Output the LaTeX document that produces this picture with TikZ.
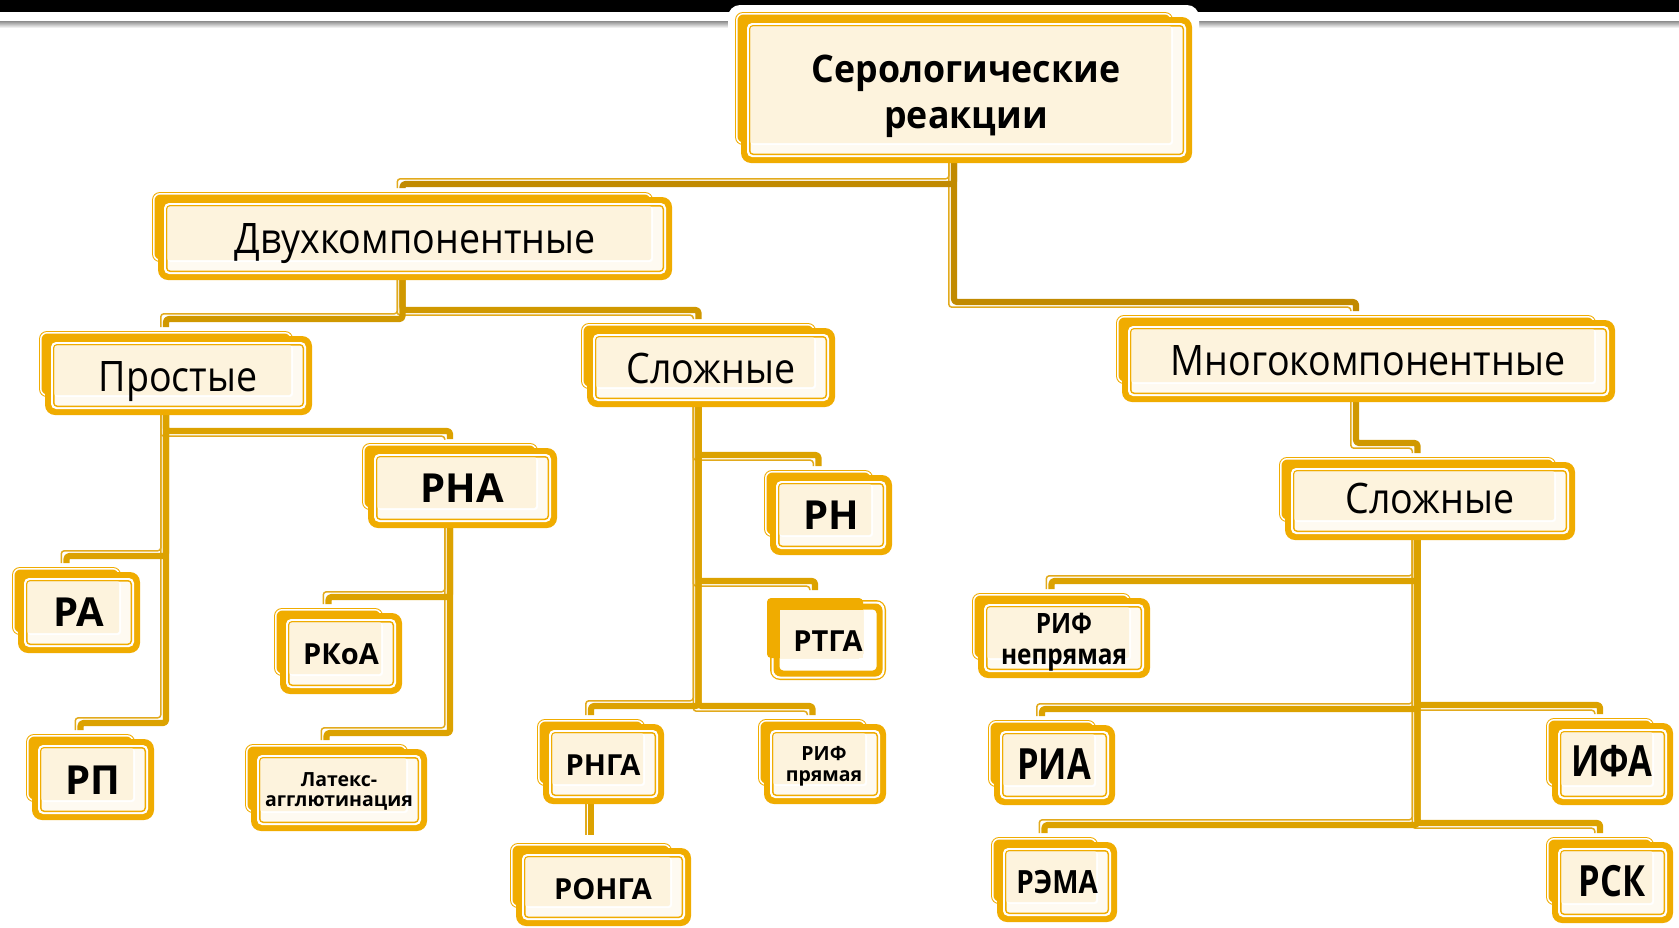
\documentclass[tikz,border=0pt]{standalone}
\usepackage{fontspec}
\setmainfont{Open Sans}
\newfontfamily\catf{Open Sans}[FakeStretch=0.895]
\newfontfamily\rootf{Open Sans}[FakeStretch=0.94]
\newfontfamily\condA{Open Sans}[FakeStretch=0.8]
\newfontfamily\condB{Open Sans}[FakeStretch=0.87]
\usetikzlibrary{calc}
\definecolor{boxor}{HTML}{F0AC00}
\definecolor{cream}{HTML}{FDF3DD}
\definecolor{frontin}{HTML}{FEFAF1}
\definecolor{cA}{HTML}{C18A00}
\definecolor{cB}{HTML}{D09800}
\definecolor{cC}{HTML}{DCA200}
\definecolor{thinc}{HTML}{E2AA1C}
\newcommand\fpx[1]{\fontsize{\dimexpr #1pt/2\relax}{\dimexpr #1pt*6/10\relax}\selectfont}
\tikzset{
  thinl/.style={draw=thinc, line width=0.75pt, rounded corners=1.5pt},
  thickl/.style={line width=3.1pt, rounded corners=1.5pt},
  lbl/.style={anchor=base, inner sep=0pt, text=black},
  bigb/.style={lbl, font=\bfseries\fpx{40}},
  rootl/.style={lbl, font=\rootf\bfseries\fpx{38}},
  condbig/.style={lbl, font=\condA\bfseries\fpx{43}},
  midb/.style={lbl, font=\bfseries\fpx{29}},
  smlb/.style={lbl, font=\bfseries\fpx{19.5}},
  catl/.style={lbl, font=\catf\fpx{42}},
}
% named back-box node: name, front L T R B (px)
\newcommand\mknode[5]{\node[inner sep=0pt, outer sep=0pt, minimum width={(#4-#2-13)*0.5pt}, minimum height={(#5-#3-13)*0.5pt}, anchor=north west] (#1) at (#2-6,#3-5) {};}
% box drawing
\newcommand\drawbox[5]{%
  \fill[boxor, rounded corners=4pt] (#1.north west) rectangle (#1.south east);
  \fill[white, rounded corners=3.5pt] ([shift={(1,1)}]#1.north west) rectangle ([shift={(-1,-1)}]#1.south east);
  \fill[boxor, rounded corners=3pt] ([shift={(2.5,2.5)}]#1.north west) rectangle ([shift={(-2.5,-2.5)}]#1.south east);
  \fill[boxor, rounded corners=5pt] (#2,#3) rectangle (#4,#5);
  \fill[white, rounded corners=2.5pt] (#2+6,#3+6) rectangle (#4-6,#5-6);
  \fill[boxor, rounded corners=2pt] (#2+8,#3+8) rectangle (#4-8,#5-8);
  \fill[frontin, rounded corners=1.5pt] (#2+9.5,#3+9.5) rectangle (#4-9.5,#5-9.5);
  \fill[white, rounded corners=1.5pt] (#2+9.5,#3+9.5) rectangle (#1.south east);
  \fill[cream, rounded corners=1pt] (#2+9.5,#3+9.5) rectangle ([shift={(-2,-2)}]#1.south east);
}
% connectors: colour, parent, child, bus y (px)
\newcommand\cthin[4]{\draw[thinl] let \p1=(#2.south), \p2=(#3.north), \n1={ifthenelse(\x2>\x1,1,-1)} in
  (\x1-2.6pt,\y1) -- (\x1-2.6pt,{-#4*0.5pt-\n1*2.6pt}) -- (\x2-2.6pt,{-#4*0.5pt-\n1*2.6pt}) -- (\x2-2.6pt,\y2+2pt);}
\newcommand\cthick[4]{\draw[thickl, draw=#1] let \p1=(#2.south), \p2=(#3.north) in
  (\x1,\y1) -- (\x1,{-#4*0.5pt}) -- (\x2,{-#4*0.5pt}) -- (\x2,\y2+2pt);}
\newcommand\connlist[1]{%
  #1{cA}{root}{dvuh}{184}
  #1{cA}{root}{mnogo}{302}
  #1{cB}{dvuh}{prost}{319}
  #1{cB}{dvuh}{slozhA}{310}
  #1{cC}{prost}{ra}{556}
  #1{cC}{prost}{rp}{723}
  #1{cC}{prost}{rna}{431}
  #1{cC}{rna}{rkoa}{597}
  #1{cC}{rna}{latex}{733}
  #1{cC}{slozhA}{rn}{455}
  #1{cC}{slozhA}{rtga}{581}
  #1{cC}{slozhA}{rnga}{706}
  #1{cC}{slozhA}{rifp}{706}
  #1{cB}{mnogo}{slozhB}{443}
  #1{cC}{slozhB}{rifn}{581}
  #1{cC}{slozhB}{ria}{709}
  #1{cC}{slozhB}{ifa}{705}
  #1{cC}{slozhB}{rema}{825}
  #1{cC}{slozhB}{rsk}{823}
}
\begin{document}
\begin{tikzpicture}[x=0.5pt, y=-0.5pt, line join=round]
\useasboundingbox (0,0) rectangle (1679,927);
\fill[white] (0,0) rectangle (1679,927);
% top band
\fill[black] (0,0) rectangle (1679,12);
\shade[top color=black!45, bottom color=white] (0,21) rectangle (1679,28);
% named nodes (back boxes)
\mknode{root}{741}{17}{1192}{163}
\mknode{dvuh}{158}{197}{672}{280}
\mknode{prost}{45}{336}{312}{415}
\mknode{slozhA}{587}{328}{835}{407}
\mknode{mnogo}{1122}{320}{1615}{402}
\mknode{slozhB}{1285}{462}{1575}{540}
\mknode{rna}{368}{448}{557}{528}
\mknode{ra}{18}{572}{140}{653}
\mknode{rp}{32}{739}{154}{820}
\mknode{rkoa}{280}{613}{402}{694}
\mknode{latex}{251}{749}{427}{831}
\mknode{rn}{770}{475}{892}{555}
\node[inner sep=0pt, outer sep=0pt, minimum width=48pt, minimum height=32pt, anchor=north west] (rtga) at (767,594) {};
\mknode{rnga}{543}{724}{664}{804}
\mknode{rifp}{764}{724}{886}{804}
\mknode{ronga}{516}{848}{691}{926}
\mknode{rifn}{978}{598}{1150}{678}
\mknode{ria}{994}{725}{1115}{805}
\mknode{ifa}{1552}{723}{1673}{805}
\mknode{rema}{997}{842}{1117}{922}
\mknode{rsk}{1552}{842}{1673}{923}
% white glow of the root box over the band
\fill[white, rounded corners=6pt] (728,5) rectangle (1199,170);
% connectors
\connlist\cthin
\draw[thinl] let \p1=(rnga.south), \p2=(ronga.north) in (\x1-2.6pt,\y1) -- (\x1-2.6pt,\y2+4pt);
\connlist\cthick
\draw[thickl, draw=cC] let \p1=(rnga.south), \p2=(ronga.north) in (\x1,\y1) -- (\x1,\y2+4pt);
% boxes
\drawbox{root}{741}{17}{1192}{163}
\drawbox{dvuh}{158}{197}{672}{280}
\drawbox{prost}{45}{336}{312}{415}
\drawbox{slozhA}{587}{328}{835}{407}
\drawbox{mnogo}{1122}{320}{1615}{402}
\drawbox{slozhB}{1285}{462}{1575}{540}
\drawbox{rna}{368}{448}{557}{528}
\drawbox{ra}{18}{572}{140}{653}
\drawbox{rp}{32}{739}{154}{820}
\drawbox{rkoa}{280}{613}{402}{694}
\drawbox{latex}{251}{749}{427}{831}
\drawbox{rn}{770}{475}{892}{555}
\drawbox{rnga}{543}{724}{664}{804}
\drawbox{rifp}{764}{724}{886}{804}
\drawbox{ronga}{516}{848}{691}{926}
\drawbox{rifn}{978}{598}{1150}{678}
\drawbox{ria}{994}{725}{1115}{805}
\drawbox{ifa}{1552}{723}{1673}{805}
\drawbox{rema}{997}{842}{1117}{922}
\drawbox{rsk}{1552}{842}{1673}{923}
% the RTGA box (different layering)
\fill[boxor, rounded corners=5pt] (770,600) rectangle (886,680);
\fill[white, rounded corners=4pt] (771.5,601.5) rectangle (884.5,678.5);
\fill[boxor, rounded corners=3.5pt] (773.5,603.5) rectangle (882.5,676.5);
\fill[white, rounded corners=2pt] (779.5,609.5) rectangle (876.5,670.5);
\fill[boxor, rounded corners=2pt] (rtga.north west |- 0,598) rectangle (rtga.south east);
\fill[cream] (780,610) rectangle (rtga.south east);
% labels
\node[rootl] (root-t1) at (966,82) {Серологические};
\node[rootl] (root-t2) at (966,128) {реакции};
\node[catl] (dvuh-t) at (415,253) {Двухкомпонентные};
\node[catl] (prost-t) at (178,391) {Простые};
\node[catl] (slozhA-t) at (711,383) {Сложные};
\node[catl] (mnogo-t) at (1368,375) {Многокомпонентные};
\node[catl] (slozhB-t) at (1430,513) {Сложные};
\node[bigb] (rna-t) at (462,502) {РНА};
\node[bigb] (ra-t) at (79,626) {РА};
\node[bigb] (rp-t) at (93,794) {РП};
\node[midb] (rkoa-t) at (341,664) {РКоА};
\node[smlb] (latex-t1) at (339,786) {Латекс-};
\node[smlb] (latex-t2) at (339,806) {агглютинация};
\node[bigb] (rn-t) at (831,529) {РН};
\node[midb] (rtga-t) at (828,651) {РТГА};
\node[midb] (rnga-t) at (603,775) {РНГА};
\node[midb] (ronga-t) at (603,899) {РОНГА};
\node[smlb] (rifp-t1) at (824,760) {РИФ};
\node[smlb] (rifp-t2) at (824,781) {прямая};
\node[lbl, font=\condB\bfseries\fpx{28}] (rifn-t1) at (1064,633) {РИФ};
\node[lbl, font=\condB\bfseries\fpx{28}] (rifn-t2) at (1064,664) {непрямая};
\node[condbig] (ria-t) at (1054,779) {РИА};
\node[condbig] (ifa-t) at (1612,776) {ИФА};
\node[lbl, font=\condB\bfseries\fpx{32}] (rema-t) at (1057,893) {РЭМА};
\node[condbig] (rsk-t) at (1612,896) {РСК};
\end{tikzpicture}
\end{document}
